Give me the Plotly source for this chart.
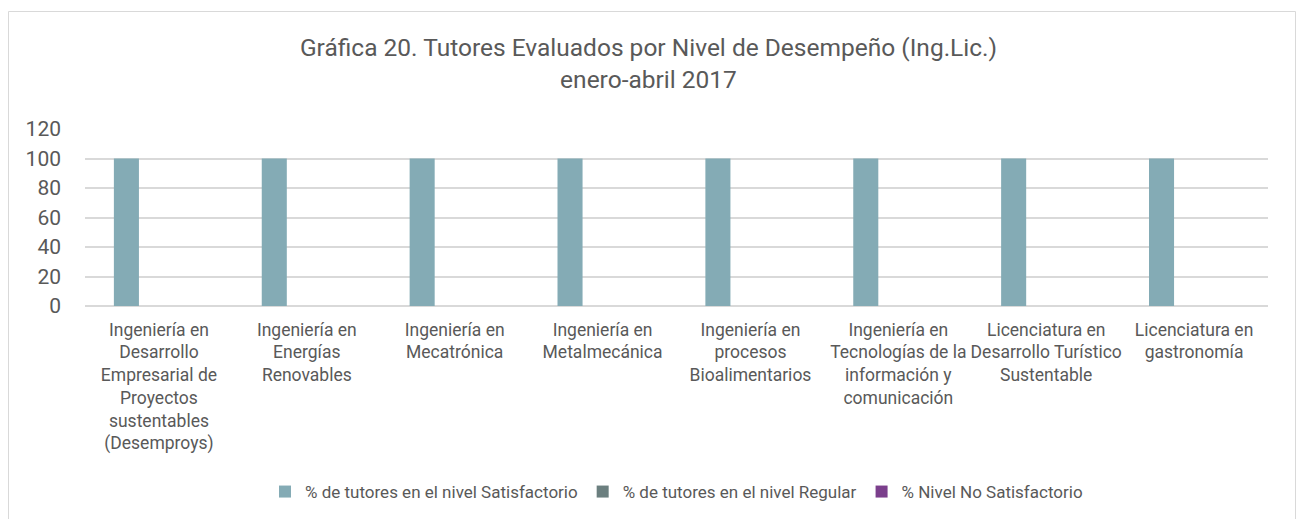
import plotly.graph_objects as go

categories = [
    "Ingeniería en<br>Desarrollo<br>Empresarial de<br>Proyectos<br>sustentables<br>(Desemproys)",
    "Ingeniería en<br>Energías<br>Renovables",
    "Ingeniería en<br>Mecatrónica",
    "Ingeniería en<br>Metalmecánica",
    "Ingeniería en<br>procesos<br>Bioalimentarios",
    "Ingeniería en<br>Tecnologías de la<br>información y<br>comunicación",
    "Licenciatura en<br>Desarrollo Turístico<br>Sustentable",
    "Licenciatura en<br>gastronomía",
]
series_names = [
    "% de tutores en el nivel Satisfactorio",
    "% de tutores en el nivel Regular",
    "% Nivel No Satisfactorio",
]
satisfactorio = [100, 100, 100, 100, 100, 100, 100, 100]
regular = [0, 0, 0, 0, 0, 0, 0, 0]
no_satisfactorio = [0, 0, 0, 0, 0, 0, 0, 0]
y_ticks = [0, 20, 40, 60, 80, 100, 120]

colors = ["#84abb5", "#6b7f7f", "#7b3f8c"]
FONT = "Roboto"
W, H = 1297, 519
L, R, T, B = 85, 29, 129, 213

fig = go.Figure()
for name, vals, c in zip(series_names, [satisfactorio, regular, no_satisfactorio], colors):
    fig.add_trace(go.Bar(x=categories, y=vals, name=name, marker_color=c,
                         marker_line_width=0))

pw = W - L - R
ph = H - T - B
fig.add_shape(type="rect", xref="paper", yref="paper",
              x0=(8.5 - L) / pw, x1=(1295.5 - L) / pw,
              y0=-(H + 5 - T - ph) / ph, y1=1 + (T - 11.5) / ph,
              line=dict(color="#d9d9d9", width=1), layer="below")

fig.update_layout(
    width=W, height=H,
    margin=dict(l=L, r=R, t=T, b=B, autoexpand=False),
    paper_bgcolor="white", plot_bgcolor="white",
    font=dict(family=FONT, color="#595959"),
    title=dict(text="Gráfica 20. Tutores Evaluados por Nivel de Desempeño (Ing.Lic.)<br>enero-abril 2017",
               x=0.5, xanchor="center", y=1 - 56 / H, yanchor="middle",
               font=dict(size=24.5, color="#595959", family=FONT)),
    barmode="group", bargap=0.34, bargroupgap=0.23,
    showlegend=True,
    legend=dict(orientation="h", x=0.5, xanchor="center", y=-(492 - 306) / ph, yanchor="middle",
                font=dict(size=17, color="#595959", family=FONT), itemwidth=30,
                traceorder="normal"),
    xaxis=dict(tickfont=dict(size=17.5, color="#595959"), showgrid=False, showline=False,
               ticks="", tickangle=0, automargin=False, ticklabelstandoff=11),
    yaxis=dict(range=[0, 120], tickvals=y_ticks, tickfont=dict(size=21, color="#595959"),
               showgrid=True, gridcolor="#d9d9d9", gridwidth=1.5, zeroline=True,
               zerolinecolor="#d9d9d9", zerolinewidth=1.5, ticks="", ticklabelstandoff=23,
               automargin=False),
)
fig.write_html("out.html", config={"displayModeBar": False},
               post_script="document.body.style.margin='0';document.body.style.overflow='hidden';")
